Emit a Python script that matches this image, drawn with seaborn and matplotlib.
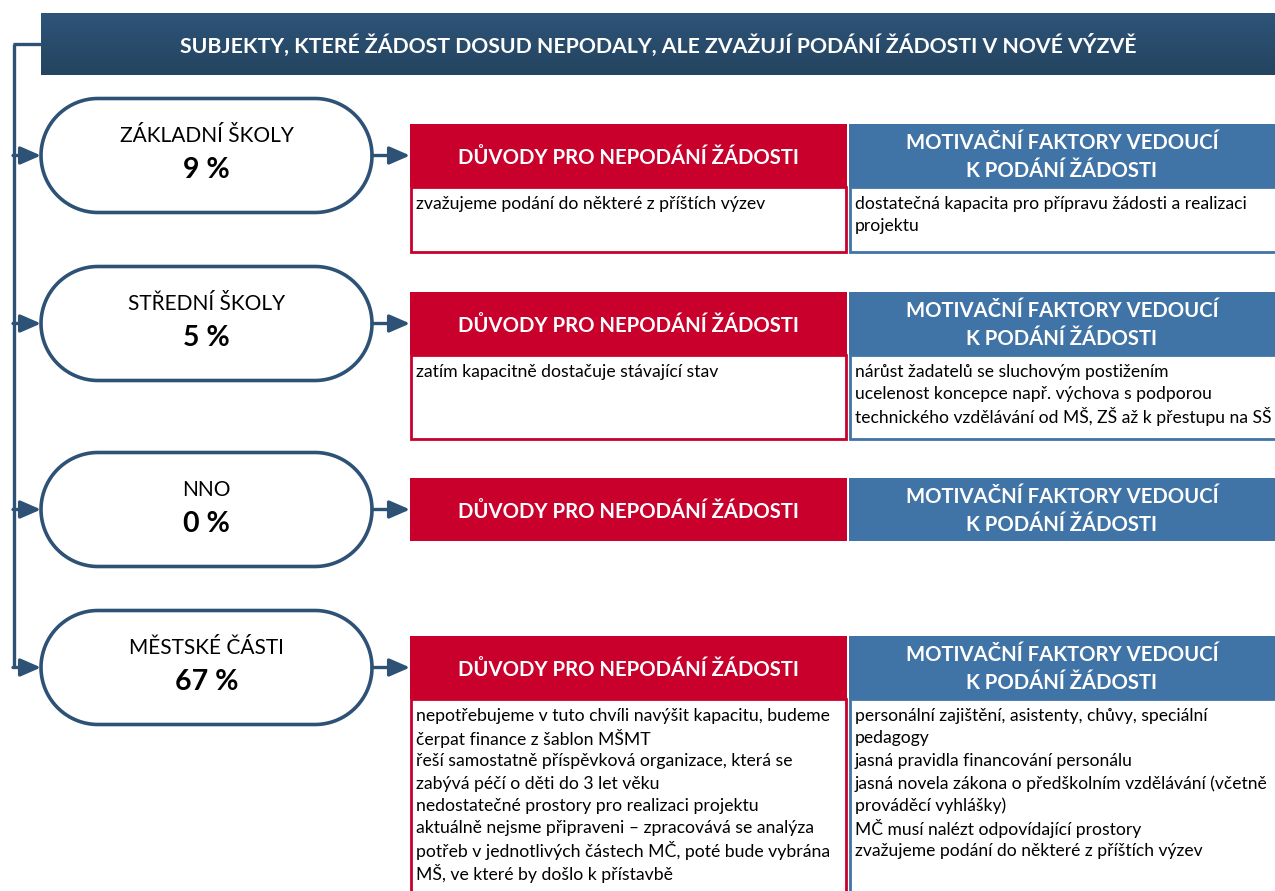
import numpy as np
import matplotlib
matplotlib.use("Agg")
import matplotlib.pyplot as plt
import seaborn as sns
from matplotlib.patches import Rectangle, PathPatch
from matplotlib.path import Path
from matplotlib.colors import LinearSegmentedColormap

# ---------------- data ----------------
title = "SUBJEKTY, KTERÉ ŽÁDOST DOSUD NEPODALY, ALE ZVAŽUJÍ PODÁNÍ ŽÁDOSTI V NOVÉ VÝZVĚ"
categories = ["ZÁKLADNÍ ŠKOLY", "STŘEDNÍ ŠKOLY", "NNO", "MĚSTSKÉ ČÁSTI"]
shares = [9, 5, 0, 67]
reason_header = "DŮVODY PRO NEPODÁNÍ ŽÁDOSTI"
motiv_header = "MOTIVAČNÍ FAKTORY VEDOUCÍ\nK PODÁNÍ ŽÁDOSTI"
reasons = [
    ["zvažujeme podání do některé z příštích výzev"],
    ["zatím kapacitně dostačuje stávající stav"],
    [],
    ["nepotřebujeme v tuto chvíli navýšit kapacitu, budeme",
     "čerpat finance z šablon MŠMT",
     "řeší samostatně příspěvková organizace, která se",
     "zabývá péčí o děti do 3 let věku",
     "nedostatečné prostory pro realizaci projektu",
     "aktuálně nejsme připraveni – zpracovává se analýza",
     "potřeb v jednotlivých částech MČ, poté bude vybrána",
     "MŠ, ve které by došlo k přístavbě"],
]
motivations = [
    ["dostatečná kapacita pro přípravu žádosti a realizaci",
     "projektu"],
    ["nárůst žadatelů se sluchovým postižením",
     "ucelenost koncepce např. výchova s podporou",
     "technického vzdělávání od MŠ, ZŠ až k přestupu na SŠ"],
    [],
    ["personální zajištění, asistenty, chůvy, speciální",
     "pedagogy",
     "jasná pravidla financování personálu",
     "jasná novela zákona o předškolním vzdělávání (včetně",
     "prováděcí vyhlášky)",
     "MČ musí nalézt odpovídající prostory",
     "zvažujeme podání do některé z příštích výzev"],
]

# ---------------- layout / style ----------------
LINE = "#2E5275"
RED = "#C8002B"
BLUE = "#4174A6"

sns.set_theme(style="white")
plt.rcParams["font.family"] = ["Lato", "DejaVu Sans"]

W, H = 1275, 891
fig = plt.figure(figsize=(W / 100, H / 100), dpi=100)
ax = fig.add_axes([0, 0, 1, 1])
ax.set_xlim(0, W)
ax.set_ylim(H, 0)
ax.axis("off")
sns.despine(ax=ax, left=True, bottom=True)

# title bar with slight vertical gradient
grad = np.linspace(0, 1, 64).reshape(-1, 1)
cmap = LinearSegmentedColormap.from_list("nav", ["#2E5479", "#24445F"])
ax.imshow(grad, cmap=cmap, aspect="auto", extent=[41, W, 75, 13], zorder=1)
ax.text((41 + W) / 2, 45, title, color="white", fontsize=15.3, fontweight="bold",
        ha="center", va="center", zorder=3)

header_tops = [124, 292, 478, 636]
header_h = 63
box_h = [66, 85, 0, 230]
pill_x0, pill_x1 = 41, 372
pill_h = 114
red_x0, red_x1 = 410, 847
blue_x0, blue_x1 = 849, 1290
trunk_x = 14
lw = 2.4
ms = 20

centers = [t + header_h / 2 for t in header_tops]


def pill_path(x0, x1, cy, h):
    r = h / 2
    t1 = np.linspace(np.pi / 2, 3 * np.pi / 2, 60)   # left semicircle
    t2 = np.linspace(-np.pi / 2, np.pi / 2, 60)      # right semicircle
    left = np.column_stack([x0 + r + r * np.cos(t1), cy - r * np.sin(t1)])
    right = np.column_stack([x1 - r + r * np.cos(t2), cy - r * np.sin(t2)])
    pts = np.vstack([left, right, left[:1]])
    codes = [Path.MOVETO] + [Path.LINETO] * (len(pts) - 2) + [Path.CLOSEPOLY]
    return Path(pts, codes)


# trunk line
ax.plot([trunk_x, trunk_x], [44, centers[-1]], color=LINE, lw=lw, solid_capstyle="butt", zorder=2)
ax.plot([trunk_x - 1, 41], [44, 44], color=LINE, lw=lw, solid_capstyle="butt", zorder=2)

arrow_kw = dict(arrowstyle="-|>,head_length=0.62,head_width=0.27", color=LINE, lw=lw,
                mutation_scale=ms, shrinkA=0, shrinkB=0)

for i, (cat, sh) in enumerate(zip(categories, shares)):
    cy = centers[i]
    ax.annotate("", xy=(pill_x0, cy), xytext=(trunk_x - 1, cy), arrowprops=arrow_kw, zorder=4)
    ax.add_patch(PathPatch(pill_path(pill_x0, pill_x1, cy, pill_h),
                           fc="white", ec=LINE, lw=2.6, zorder=3))
    ax.text((pill_x0 + pill_x1) / 2, cy - 19, cat, fontsize=15, ha="center",
            va="center", color="black", zorder=5)
    ax.text((pill_x0 + pill_x1) / 2, cy + 15, f"{sh} %", fontsize=20.5,
            fontweight="bold", ha="center", va="center", color="black", zorder=5)
    ax.annotate("", xy=(red_x0, cy), xytext=(pill_x1, cy), arrowprops=arrow_kw, zorder=4)

    top = header_tops[i]
    ax.add_patch(Rectangle((red_x0, top), red_x1 - red_x0, header_h, fc=RED, ec="none", zorder=3))
    ax.add_patch(Rectangle((blue_x0, top), blue_x1 - blue_x0, header_h, fc=BLUE, ec="none", zorder=3))
    ax.text((red_x0 + red_x1) / 2, cy + 2.5, reason_header, color="white", fontsize=14.6,
            fontweight="bold", ha="center", va="center", zorder=5)
    ax.text((blue_x0 + 1275) / 2, cy + 1.5, motiv_header, color="white", fontsize=14.6,
            fontweight="bold", ha="center", va="center", linespacing=1.55, zorder=5)

    if box_h[i] > 0:
        bt = top + header_h
        ax.add_patch(Rectangle((red_x0 + 1, bt), red_x1 - red_x0 - 2, box_h[i] - 1,
                               fc="white", ec=RED, lw=2, zorder=3))
        ax.add_patch(Rectangle((blue_x0 + 1, bt), blue_x1 - blue_x0, box_h[i] - 1,
                               fc="white", ec=BLUE, lw=2, zorder=3))
        for j, line in enumerate(reasons[i]):
            ax.text(red_x0 + 6, bt + 17 + j * 22.5, line, fontsize=12.7,
                    ha="left", va="center", color="black", zorder=5)
        for j, line in enumerate(motivations[i]):
            ax.text(blue_x0 + 6, bt + 17 + j * 22.5, line, fontsize=12.6,
                    ha="left", va="center", color="black", zorder=5)

fig.savefig("out.png", dpi=100, facecolor="white")
